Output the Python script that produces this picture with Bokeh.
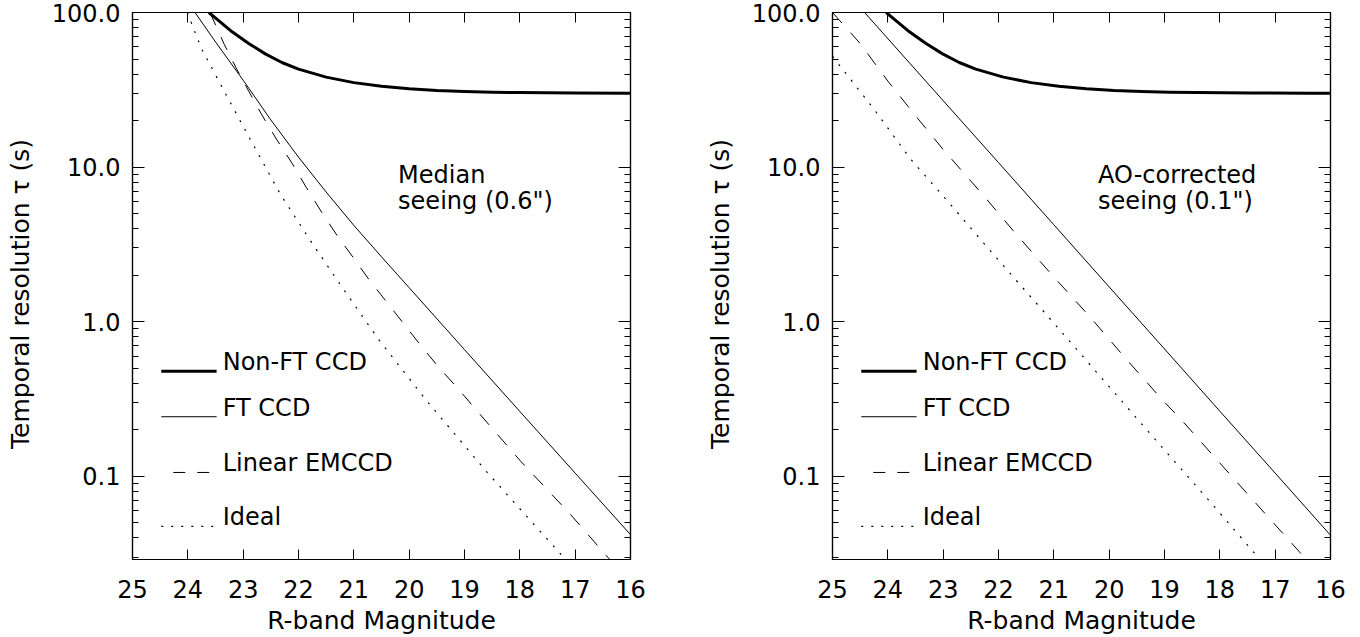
from bokeh.plotting import figure
from bokeh.layouts import row
from bokeh.models import (Range1d, FixedTicker, LinearAxis, LogAxis,
                          CustomJSTickFormatter, CustomLabelingPolicy, Label)
from bokeh.embed import file_html
from bokeh.resources import INLINE

# ---------------- data ----------------
mag_ticks = [25, 24, 23, 22, 21, 20, 19, 18, 17, 16]
tau_ticks = [0.1, 1, 10, 100]
tau_minor = [0.03, 0.04, 0.05, 0.06, 0.07, 0.08, 0.09,
             0.2, 0.3, 0.4, 0.5, 0.6, 0.7, 0.8, 0.9,
             2, 3, 4, 5, 6, 7, 8, 9,
             20, 30, 40, 50, 60, 70, 80, 90]

series_names = ["Non-FT CCD", "FT CCD", "Linear EMCCD", "Ideal"]

# Left panel: median seeing (0.6")
med_nonft_mag = [23.62, 23.4, 23.2, 22.9, 22.6, 22.3, 22.0, 21.5, 21.0,
                 20.5, 20.0, 19.5, 19.0, 18.5, 18.0, 17.0, 16.0]
med_nonft_tau = [100, 86, 75, 63, 54, 47.5, 43, 38.2, 35.2,
                 33.3, 32.1, 31.3, 30.8, 30.5, 30.33, 30.13, 30.05]
med_ft_mag = [23.87, 23.5, 23.0, 22.5, 22.0, 21.5, 21.0, 20.5, 20.0, 19.0,
              18.0, 17.0, 16.0]
med_ft_tau = [100, 64.5, 36.5, 20.2, 11.6, 6.9, 4.2, 2.63, 1.66, 0.66,
              0.263, 0.105, 0.042]
med_em_mag = [23.6, 23.34, 23.13, 22.9, 22.65, 22.4, 22.11, 21.86, 21.58, 21.3,
              21.01, 20.72, 20.3, 19.8, 19.47, 19.13, 18.8, 18.0, 17.09, 16.3]
med_em_tau = [100, 62, 44, 31, 21.4, 15.2, 10.5, 7.4, 5.1, 3.6,
              2.6, 1.86, 1.2, 0.71, 0.51, 0.374, 0.272, 0.127, 0.057, 0.027]
med_ideal_mag = [24.01, 23.75, 23.3, 22.84, 22.33, 21.75, 21.16, 20.53, 19.68,
                 18.59, 17.21, 17.0]
med_ideal_tau = [100, 58, 29, 14.4, 6.7, 3.2, 1.57, 0.75, 0.307,
                 0.106, 0.030, 0.0246]

# Right panel: AO-corrected seeing (0.1")
ao_nonft_mag = [24.03, 23.81, 23.61, 23.31, 23.01, 22.71, 22.41, 21.91, 21.41,
                20.91, 20.41, 19.91, 19.41, 18.91, 18.41, 17.41, 16.41, 16.0]
ao_nonft_tau = [100, 86, 75, 63, 54, 47.5, 43, 38.2, 35.2,
                33.3, 32.1, 31.3, 30.8, 30.5, 30.33, 30.13, 30.05, 30.03]
ao_ft_mag = [24.42, 23, 22, 21, 20, 19, 18, 17, 16]
ao_ft_tau = [100, 26.9, 10.7, 4.24, 1.68, 0.667, 0.264, 0.105, 0.0416]
ao_em_mag = [25.0, 24.5, 24.0, 23.5, 23.0, 22.35, 21.69, 21.03, 20.35, 19.71,
             19.03, 18.68, 18.0, 17.0, 16.4]
ao_em_tau = [100, 63, 36, 21.5, 13.0, 7.06, 3.72, 2.0, 1.08, 0.583,
             0.31, 0.229, 0.122, 0.0486, 0.028]
ao_ideal_mag = [25.0, 24.25, 23.59, 23.0, 22.0, 21.0, 20.0, 19.0, 18.0, 17.22, 17.0]
ao_ideal_tau = [52, 23.7, 11.3, 6.5, 2.5, 0.98, 0.38, 0.148, 0.058, 0.0275, 0.0224]

# ---------------- styling ----------------
FONT = "DejaVu Sans"
STYLES = [dict(line_width=3.0, line_dash="solid"),
          dict(line_width=1.0, line_dash="solid"),
          dict(line_width=1.0, line_dash="14 13"),
          dict(line_width=1.2, line_dash="2 8")]
LEG_X0, LEG_X1, LEG_TX = 24.48, 23.48, 23.37
LEG_Y = [0.479, 0.243, 0.106, 0.0475]
NOTE_X, NOTE_Y1, NOTE_Y2 = 20.2, 7.75, 5.27

NO_LABELS = CustomLabelingPolicy(code="""
    const all = [...indices];
    for (const i of all) indices.unset(i);
    return indices;
""")


def style_axis(ax, ticker, labels=True, tick_major=10, tick_minor=0):
    ax.ticker = ticker
    ax.axis_line_color = "black"
    ax.axis_line_width = 1.2
    ax.major_tick_line_color = "black"
    ax.minor_tick_line_color = "black"
    ax.major_tick_in = tick_major
    ax.major_tick_out = 0
    ax.minor_tick_in = tick_minor
    ax.minor_tick_out = 0
    if labels:
        ax.major_label_text_font = FONT
        ax.major_label_text_font_size = "24px"
        ax.major_label_text_color = "black"
    else:
        ax.major_label_policy = NO_LABELS
        ax.major_label_standoff = 0


def add_text(p, x, y, text):
    p.add_layout(Label(x=x, y=y, text=text, text_font=FONT,
                       text_font_size="24px", text_color="black",
                       text_baseline="bottom", text_align="left",
                       y_offset=-5))


def make_panel(curves, note, left_border, right_border):
    p = figure(width=680, height=637, y_axis_type="log",
               x_range=Range1d(25, 16), y_range=Range1d(0.029, 100),
               output_backend="svg", toolbar_location=None,
               min_border_left=left_border, min_border_right=right_border,
               min_border_top=12, min_border_bottom=77)
    p.xgrid.visible = False
    p.ygrid.visible = False
    p.outline_line_color = "black"
    p.outline_line_width = 1.2
    p.background_fill_color = "white"
    p.border_fill_color = "white"

    xt = FixedTicker(ticks=mag_ticks, minor_ticks=[])
    yt = FixedTicker(ticks=tau_ticks, minor_ticks=tau_minor)

    xa = p.xaxis[0]
    style_axis(xa, xt, labels=True, tick_major=10)
    xa.major_label_standoff = 20
    xa.axis_label = "R-band Magnitude"
    xa.axis_label_text_font = FONT
    xa.axis_label_text_font_size = "25px"
    xa.axis_label_text_font_style = "normal"
    xa.axis_label_text_color = "black"
    xa.axis_label_standoff = 5

    ya = p.yaxis[0]
    style_axis(ya, yt, labels=True, tick_major=12, tick_minor=6)
    ya.formatter = CustomJSTickFormatter(code="return tick.toFixed(1);")
    ya.major_label_standoff = 12
    ya.axis_label = "Temporal resolution  \u03c4  (s)"
    ya.axis_label_text_font = FONT
    ya.axis_label_text_font_size = "25px"
    ya.axis_label_text_font_style = "normal"
    ya.axis_label_text_color = "black"
    ya.axis_label_standoff = 14

    top = LinearAxis()
    style_axis(top, FixedTicker(ticks=mag_ticks, minor_ticks=[]), labels=False, tick_major=10)
    p.add_layout(top, "above")
    right = LogAxis()
    style_axis(right, FixedTicker(ticks=tau_ticks, minor_ticks=tau_minor),
               labels=False, tick_major=12, tick_minor=6)
    p.add_layout(right, "right")

    for (xs, ys), st in zip(curves, STYLES):
        p.line(xs, ys, line_color="black", line_join="round", **st)

    for name, yy, st in zip(series_names, LEG_Y, STYLES):
        kw = dict(st)
        if st["line_dash"] == "14 13":
            kw.update(line_dash="12 12", line_dash_offset=12)
        p.line([LEG_X0, LEG_X1], [yy, yy], line_color="black", **kw)
        add_text(p, LEG_TX, yy, name)

    add_text(p, NOTE_X, NOTE_Y1, note[0])
    add_text(p, NOTE_X, NOTE_Y2, note[1])
    return p


left = make_panel([(med_nonft_mag, med_nonft_tau), (med_ft_mag, med_ft_tau),
                   (med_em_mag, med_em_tau), (med_ideal_mag, med_ideal_tau)],
                  ["Median", "seeing (0.6\")"], 132, 50)
right = make_panel([(ao_nonft_mag, ao_nonft_tau), (ao_ft_mag, ao_ft_tau),
                    (ao_em_mag, ao_em_tau), (ao_ideal_mag, ao_ideal_tau)],
                   ["AO-corrected", "seeing (0.1\")"], 152, 30)

layout = row(left, right, spacing=0)
open("out.html", "w").write(file_html(layout, INLINE))
